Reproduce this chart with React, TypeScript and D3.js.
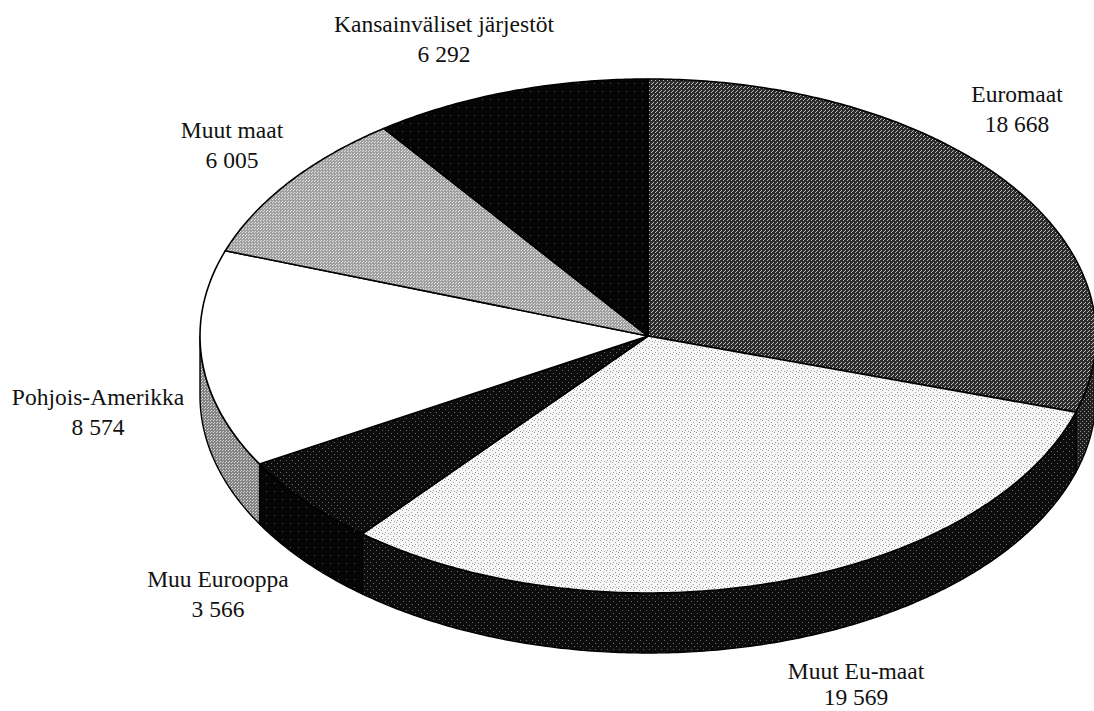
import React, { useRef, useEffect } from 'react';
import * as d3 from 'd3';

// slices, clockwise from 12 o'clock
const categories = [
  "Euromaat",
  "Muut Eu-maat",
  "Muu Eurooppa",
  "Pohjois-Amerikka",
  "Muut maat",
  "Kansainväliset järjestöt",
];
const values = [18668, 19569, 3566, 8574, 6005, 6292];
const valueLabels = ["18 668", "19 569", "3 566", "8 574", "6 005", "6 292"];

// label anchors (centre x, first baseline)
const labelPos: [number, number][] = [
  [1017, 102],
  [856, 679],
  [218, 587],
  [98, 405],
  [232, 138],
  [444, 32],
];

const WIDTH = 1094;
const HEIGHT = 711;

const App: React.FC = () => {
  const svgRef = useRef<SVGSVGElement>(null);

  useEffect(() => {
    if (!svgRef.current) return;
    const svg = d3.select(svgRef.current);
    svg.selectAll("*").remove();

    const cx = 648, cy = 336, rx = 448, ry = 257, depth = 60;

    const defs = svg.append("defs");
    const addPattern = (id: string, size: number, bg: string, dot: string, dots: [number, number][]) => {
      const p = defs.append("pattern")
        .attr("id", id)
        .attr("patternUnits", "userSpaceOnUse")
        .attr("width", size)
        .attr("height", size);
      p.append("rect").attr("width", size).attr("height", size).attr("fill", bg);
      dots.forEach(([x, y]) => {
        p.append("rect").attr("x", x).attr("y", y).attr("width", 1).attr("height", 1).attr("fill", dot);
      });
    };
    addPattern("p-euro", 4, "#2c2c2c", "#bcbcbc", [[0, 3], [1, 2], [3, 0]]);
    addPattern("p-euro-side", 4, "#202020", "#909090", [[0, 3], [2, 1]]);
    addPattern("p-light", 6, "#f7f7f7", "#9a9a9a", [[0, 0], [3, 2], [1, 4], [4, 5]]);
    addPattern("p-dark", 6, "#0d0d0d", "#6a6a6a", [[1, 1], [4, 4]]);
    addPattern("p-black", 8, "#050505", "#555555", [[2, 3]]);
    addPattern("p-mid", 3, "#a0a0a0", "#e2e2e2", [[0, 0], [2, 1]]);
    addPattern("p-gray", 3, "#858585", "#d4d4d4", [[0, 0], [1, 2]]);

    const topFill = ["url(#p-euro)", "url(#p-light)", "url(#p-dark)", "#ffffff", "url(#p-mid)", "url(#p-black)"];
    const sideFill = ["url(#p-euro-side)", "url(#p-dark)", "url(#p-black)", "url(#p-gray)", "url(#p-mid)", "url(#p-black)"];

    const pie = d3.pie<number>().sort(null).startAngle(0).endAngle(2 * Math.PI);
    const arcs = pie(values);

    const pt = (a: number, dz = 0): [number, number] =>
      [cx + rx * Math.sin(a), cy - ry * Math.cos(a) + dz];
    const sample = (a0: number, a1: number, dz = 0) => {
      const n = Math.max(2, Math.ceil(Math.abs(a1 - a0) / 0.01));
      return d3.range(n + 1).map(i => pt(a0 + (a1 - a0) * i / n, dz));
    };
    const line = d3.line();

    const g = svg.append("g");

    // outer walls of the front half
    arcs.forEach((d, i) => {
      const s0 = Math.max(d.startAngle, Math.PI / 2);
      const s1 = Math.min(d.endAngle, 3 * Math.PI / 2);
      if (s1 <= s0) return;
      const pts = [...sample(s0, s1), ...sample(s1, s0, depth)];
      g.append("path")
        .attr("d", line(pts) + "Z")
        .attr("fill", sideFill[i])
        .attr("stroke", "#000")
        .attr("stroke-width", 1.4)
        .attr("stroke-linejoin", "round");
    });

    // top faces
    arcs.forEach((d, i) => {
      const pts: [number, number][] = [[cx, cy], ...sample(d.startAngle, d.endAngle)];
      g.append("path")
        .attr("d", line(pts) + "Z")
        .attr("fill", topFill[i])
        .attr("stroke", "#000")
        .attr("stroke-width", 1.6)
        .attr("stroke-linejoin", "round");
    });

    // labels
    const lbl = svg.append("g")
      .attr("font-family", "'Liberation Serif', 'Times New Roman', serif")
      .attr("font-size", 23.5)
      .attr("fill", "#111")
      .attr("text-anchor", "middle");
    categories.forEach((c, i) => {
      const [x, y] = labelPos[i];
      lbl.append("text").attr("x", x).attr("y", y).text(c);
      lbl.append("text").attr("x", x).attr("y", y + (i === 1 ? 26 : 30)).text(valueLabels[i]);
    });
  }, []);

  return (
    <svg
      ref={svgRef}
      width={WIDTH}
      height={HEIGHT}
      style={{ position: "absolute", left: 0, top: 0, background: "#fff" }}
    />
  );
};

export default App;
